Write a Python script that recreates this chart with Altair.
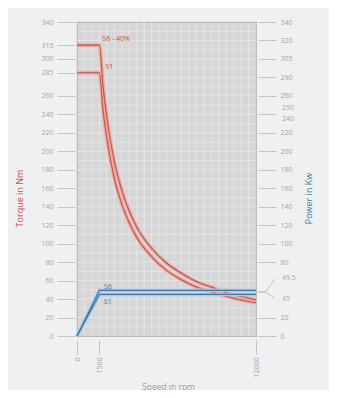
import altair as alt
import pandas as pd

# ---- data ----
speed_rpm = [0, 1500, 1750, 2000, 2500, 3000, 4000, 5000, 6000, 7000, 8000, 9000, 10000, 11000, 12000]
torque_s6 = [315, 315, 270, 236, 189, 158, 118, 95, 79, 68, 59, 53, 47, 43, 39]
torque_s1 = [285, 285, 244, 214, 171, 143, 107, 86, 71, 61, 53, 48, 43, 39, 36]

power_speed = [0, 1500, 12000]
power_s6 = [0, 49.5, 49.5]
power_s1 = [0, 45, 45]

left_ticks = [0, 20, 40, 60, 80, 100, 120, 140, 160, 180, 200, 220, 240, 260, 285, 300, 315, 340]
right_ticks = [0, 20, 80, 100, 120, 140, 160, 180, 200, 220, 240, 260, 280, 300, 320, 340]
x_ticks = [0, 1500, 12000]

grid_x = list(range(0, 12001, 500))
grid_y = list(range(0, 341, 10))

# extra right-hand labels and their leader lines (label, value where it sits)
right_label_text = ["250", "240", "49,5", "45"]
right_label_value = [247, 235, 63, 40]
leader_speed = [12130, 12650, 13250, 12130, 12650, 13250]
leader_value = [47.5, 47.5, 62, 47.5, 47.5, 41]
leader_group = ["a", "a", "a", "b", "b", "b"]

RED = "#c4504a"
RED_L = "#eba9a1"
BLUE = "#3f78a6"
BLUE_L = "#a9cde6"
GREY = "#a6a6a6"
FONT = "Open Sans"

torque = pd.DataFrame({"speed": speed_rpm * 2,
                       "value": torque_s6 + torque_s1,
                       "series": ["S6"] * len(speed_rpm) + ["S1"] * len(speed_rpm)})
power = pd.DataFrame({"speed": power_speed * 2,
                      "value": power_s6 + power_s1,
                      "series": ["S6"] * 3 + ["S1"] * 3})

xs = alt.Scale(domain=[0, 12000], nice=False, zero=True)
ys = alt.Scale(domain=[0, 340], nice=False)

xaxis = alt.Axis(values=x_ticks, title="Speed in rpm", labelAngle=270, labelAlign="right",
                 labelBaseline="middle", tickSize=14, offset=4, domain=False, grid=False, format="d",
                 labelColor=GREY, labelFontSize=7, labelFont=FONT, tickColor="#c4c4c4",
                 titleColor="#9a9a9a", titleFont=FONT, titleFontSize=8.5, titleFontWeight="normal",
                 titleX=91, titleY=51, titleBaseline="bottom", labelPadding=3, labelOverlap=False)
yaxis_left = alt.Axis(values=left_ticks, title="Torque in Nm", orient="left", tickSize=18, offset=2,
                      domain=False, grid=False, labelColor=GREY, labelFontSize=7, labelFont=FONT,
                      tickColor="#c4c4c4", labelPadding=4, titleColor=RED, titleFont=FONT,
                      titleFontSize=9, titleFontWeight="normal", titleAngle=270, titleX=-51, titleY=176,
                      labelOverlap=False)

X = alt.X("speed:Q", scale=xs, axis=xaxis)
YL = alt.Y("value:Q", scale=ys, axis=yaxis_left)

gx = alt.Chart(pd.DataFrame({"speed": grid_x})).mark_rule(color="white", opacity=0.35, strokeWidth=1).encode(
    x=X)
gy = alt.Chart(pd.DataFrame({"value": grid_y})).mark_rule(color="white", opacity=0.35, strokeWidth=1).encode(
    y=YL)

base_line = alt.Chart(torque)
t_outer = base_line.mark_line(color=RED_L, strokeWidth=3.6, interpolate="monotone").encode(
    x=X, y=YL, detail="series:N")
t_inner = base_line.mark_line(color=RED, strokeWidth=1.1, interpolate="monotone").encode(
    x=X, y=YL, detail="series:N")

yaxis_right = alt.Axis(values=right_ticks, title="Power in Kw", orient="right", tickSize=18, offset=2,
                       domain=False, grid=False, labelColor=GREY, labelFontSize=7, labelFont=FONT,
                       tickColor="#c4c4c4", labelPadding=4, titleColor=BLUE, titleFont=FONT,
                       titleFontSize=9, titleFontWeight="normal", titleAngle=270, titleX=55, titleY=176,
                       labelOverlap=False,
                       labelExpr="datum.value == 300 ? '305' : datum.value == 280 ? '290' : datum.value == 240 ? '' : datum.label")
YR = alt.Y("value:Q", scale=ys, axis=yaxis_right)
p_outer = alt.Chart(power).mark_line(color=BLUE_L, strokeWidth=3.6).encode(
    x=X, y=YR, detail="series:N")
p_inner = alt.Chart(power).mark_line(color=BLUE, strokeWidth=1.2).encode(
    x=X, y=YR, detail="series:N")

# annotations
ann_red = pd.DataFrame({"speed": [1700, 1900], "value": [322, 291], "t": ["S6 - 40%", "S1"]})
ann_blue = pd.DataFrame({"speed": [1800, 1800], "value": [53, 37], "t": ["S6", "S1"]})
txt_red = alt.Chart(ann_red).mark_text(color=RED, fontSize=7, font=FONT, align="left").encode(
    x=X, y=YL, text="t:N")
txt_blue = alt.Chart(ann_blue).mark_text(color=BLUE, fontSize=7, font=FONT, align="left").encode(
    x=X, y=YR, text="t:N")

right_extra = pd.DataFrame({"speed": [12000] * len(right_label_text), "value": right_label_value,
                            "t": right_label_text})
txt_right = alt.Chart(right_extra).mark_text(color=GREY, fontSize=7, font=FONT, align="left", dx=26,
                                             clip=False).encode(
    x=X, y=YR, text="t:N")
leaders = alt.Chart(pd.DataFrame({"speed": leader_speed, "value": leader_value, "g": leader_group})).mark_line(
    color="#c4c4c4", strokeWidth=1, clip=False).encode(x=X, y=YR, detail="g:N")

left_layers = alt.layer(gx, gy, t_outer, t_inner, txt_red)
right_layers = alt.layer(p_outer, p_inner, txt_blue, txt_right, leaders)

chart = alt.layer(left_layers, right_layers).resolve_scale(y="shared").resolve_axis(y="independent").properties(
    width=179, height=314,
    autosize=alt.AutoSizeParams(type="none"),
    padding={"left": 69, "top": 14, "right": 73, "bottom": 54},
    background="#eff0f2",
).configure_view(fill="#d6d6d6", stroke="#a9a9a9", strokeWidth=1.2)

chart.save("out.html", embed_options={"renderer": "svg", "actions": False})
